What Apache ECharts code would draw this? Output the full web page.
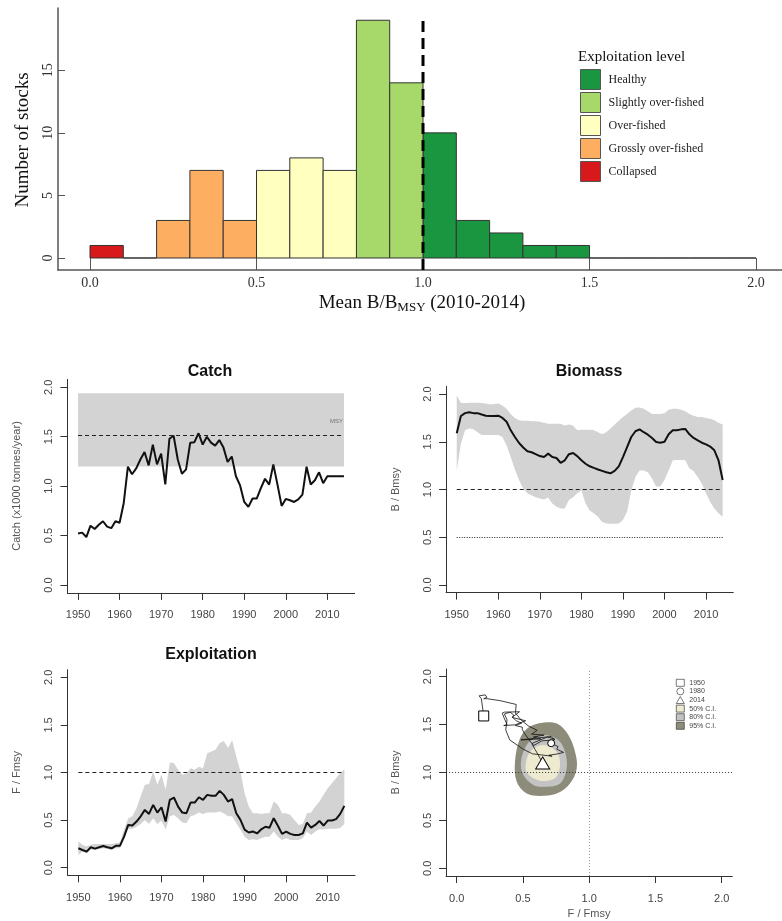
<!DOCTYPE html>
<html><head><meta charset="utf-8">
<script src="https://cdn.jsdelivr.net/npm/echarts@6/dist/echarts.min.js"></script>
<style>html,body{margin:0;padding:0;background:#fff}#c{width:782px;height:921px}</style>
</head><body><div id="c"></div><script>
// ---------- DATA ----------
const levelNames = ['Healthy','Slightly over-fished','Over-fished','Grossly over-fished','Collapsed'];
const levelColors = ['#1a9641','#a6d96a','#ffffbf','#fdae61','#d7191c'];
const binLow = [0.0,0.1,0.2,0.3,0.4,0.5,0.6,0.7,0.8,0.9,1.0,1.1,1.2,1.3,1.4,1.5,1.6,1.7,1.8,1.9];
const binWidth = 0.1;
const binCount = [1,0,3,7,3,7,8,7,19,14,10,3,2,1,1,0,0,0,0,0];
const binLevel = ['Collapsed','Collapsed','Grossly over-fished','Grossly over-fished','Grossly over-fished',
  'Over-fished','Over-fished','Over-fished','Slightly over-fished','Slightly over-fished',
  'Healthy','Healthy','Healthy','Healthy','Healthy','Healthy','Healthy','Healthy','Healthy','Healthy'];
const histRef = 1.0;
const histTicksX = [0,0.5,1,1.5,2];
const histTicksY = [0,5,10,15];

const years = [1950,1951,1952,1953,1954,1955,1956,1957,1958,1959,1960,1961,1962,1963,1964,1965,1966,1967,1968,1969,
  1970,1971,1972,1973,1974,1975,1976,1977,1978,1979,1980,1981,1982,1983,1984,1985,1986,1987,1988,1989,
  1990,1991,1992,1993,1994,1995,1996,1997,1998,1999,2000,2001,2002,2003,2004,2005,2006,2007,2008,2009,
  2010,2011,2012,2013,2014];
const catchVals = [0.52,0.53,0.485,0.60,0.566,0.61,0.645,0.59,0.575,0.645,
  0.63,0.83,1.197,1.12,1.18,1.27,1.346,1.21,1.42,1.22,
  1.33,1.017,1.48,1.51,1.27,1.125,1.17,1.44,1.445,1.535,
  1.42,1.50,1.44,1.41,1.466,1.39,1.245,1.30,1.10,1.007,
  0.84,0.79,0.875,0.875,0.98,1.075,1.015,1.22,1.015,0.80,
  0.871,0.857,0.84,0.866,0.915,1.197,1.017,1.06,1.14,1.03,
  1.10,1.10,1.10,1.10,1.10];
const msy = 1.52, msyLow = 1.2, msyHigh = 1.94;

const bioVals = [1.59,1.77,1.80,1.81,1.80,1.80,1.785,1.773,1.77,1.77,
  1.773,1.75,1.71,1.62,1.55,1.487,1.44,1.40,1.39,1.37,
  1.35,1.34,1.376,1.34,1.33,1.28,1.306,1.37,1.383,1.35,
  1.306,1.27,1.243,1.226,1.21,1.195,1.18,1.17,1.195,1.243,
  1.34,1.445,1.55,1.61,1.63,1.60,1.574,1.54,1.497,1.49,
  1.50,1.578,1.62,1.62,1.63,1.634,1.578,1.54,1.515,1.49,
  1.473,1.45,1.41,1.306,1.10];
const bioUpper = [1.985,1.905,1.905,1.91,1.91,1.91,1.905,1.90,1.89,1.895,
  1.90,1.88,1.846,1.79,1.75,1.725,1.72,1.72,1.715,1.715,
  1.71,1.70,1.69,1.69,1.69,1.69,1.67,1.68,1.67,1.62,
  1.625,1.625,1.625,1.62,1.60,1.578,1.60,1.64,1.68,1.72,
  1.76,1.79,1.828,1.856,1.86,1.846,1.82,1.79,1.79,1.79,
  1.80,1.835,1.846,1.846,1.835,1.82,1.79,1.773,1.76,1.76,
  1.75,1.74,1.725,1.70,1.68];
const bioLower = [1.20,1.48,1.62,1.64,1.63,1.60,1.57,1.57,1.57,1.57,
  1.57,1.55,1.46,1.34,1.21,1.10,1.01,0.96,0.94,0.92,
  0.905,0.895,0.915,0.853,0.82,0.80,0.80,0.89,0.92,0.96,
  0.99,0.853,0.78,0.75,0.714,0.66,0.645,0.64,0.64,0.645,
  0.68,0.767,0.99,1.13,1.20,1.20,1.18,1.115,1.03,1.035,
  1.10,1.20,1.306,1.31,1.31,1.306,1.22,1.195,1.13,1.06,
  0.96,0.87,0.80,0.75,0.714];

const explVals = [0.204,0.186,0.169,0.215,0.20,0.215,0.228,0.215,0.204,0.23,
  0.23,0.326,0.449,0.443,0.485,0.54,0.607,0.565,0.66,0.579,
  0.635,0.485,0.713,0.737,0.642,0.579,0.572,0.684,0.684,0.74,
  0.713,0.765,0.755,0.755,0.807,0.765,0.695,0.72,0.572,0.502,
  0.40,0.37,0.38,0.36,0.403,0.43,0.42,0.52,0.44,0.355,
  0.38,0.355,0.344,0.344,0.36,0.474,0.42,0.449,0.49,0.443,
  0.495,0.495,0.51,0.565,0.649];
const explUpper = [0.274,0.24,0.222,0.24,0.25,0.25,0.25,0.25,0.25,0.257,
  0.264,0.40,0.52,0.54,0.625,0.75,0.87,0.88,1.01,0.87,
  0.976,0.82,1.105,1.10,1.03,0.976,0.99,1.045,1.03,1.06,
  1.045,1.203,1.22,1.24,1.31,1.33,1.26,1.34,1.167,1.01,
  0.783,0.642,0.572,0.572,0.565,0.572,0.572,0.695,0.66,0.572,
  0.572,0.554,0.502,0.449,0.46,0.572,0.58,0.642,0.695,0.765,
  0.835,0.888,0.94,0.995,1.035];
const explLower = [0.133,0.17,0.15,0.19,0.185,0.195,0.205,0.195,0.185,0.205,
  0.205,0.30,0.41,0.41,0.43,0.46,0.50,0.46,0.52,0.46,
  0.495,0.40,0.54,0.554,0.52,0.474,0.467,0.54,0.554,0.58,
  0.565,0.58,0.58,0.58,0.59,0.572,0.54,0.54,0.467,0.40,
  0.326,0.29,0.30,0.29,0.31,0.326,0.326,0.38,0.326,0.29,
  0.31,0.29,0.29,0.29,0.31,0.38,0.344,0.38,0.403,0.40,
  0.41,0.41,0.41,0.417,0.46];

// Kobe confidence regions, [F/Fmsy, B/Bmsy] boundary vertices
const ci95 = [[0.679,1.524],[0.767,1.503],[0.843,1.391],[0.893,1.217],[0.906,1.043],[0.855,0.886],
  [0.755,0.78],[0.629,0.755],[0.528,0.78],[0.453,0.904],[0.44,1.11],[0.478,1.357],[0.553,1.48]];
const ci80 = [[0.667,1.391],[0.767,1.339],[0.818,1.217],[0.83,1.043],[0.78,0.886],[0.667,0.852],
  [0.579,0.87],[0.503,0.974],[0.485,1.113],[0.528,1.287],[0.59,1.36]];
const ci50 = [[0.654,1.287],[0.755,1.217],[0.78,1.078],[0.742,0.939],[0.629,0.915],[0.533,0.991],
  [0.523,1.113],[0.566,1.235]];
const kobeLabels = ['1950','1980','2014'];
const kobeIdx = [0, 30, 64];
const refLine = 1.0, refLimit = 0.5;
const panelTicksY = [0,0.5,1,1.5,2];
const timeTicks = [1950,1960,1970,1980,1990,2000,2010];

// ---------- STYLE ----------
const SERIF = '"Liberation Serif","Times New Roman",serif';
const SANS = '"Liberation Sans",Arial,sans-serif';

const chart = echarts.init(document.getElementById('c'), null, {renderer:'canvas'});

function panelX(gi, min, max, ticks, fmt) {
  return {type:'value', gridIndex:gi, min, max,
    axisLine:{show:true, onZero:false, lineStyle:{color:'#333', width:1}},
    axisTick:{show:true, customValues:ticks, length:7, lineStyle:{color:'#333'}},
    axisLabel:{customValues:ticks, margin:17, color:'#444', fontSize:11, fontFamily:SANS, formatter:fmt},
    splitLine:{show:false}};
}
function panelY(gi) {
  return {type:'value', gridIndex:gi, min:-0.08, max:2.08,
    axisLine:{show:true, onZero:false, lineStyle:{color:'#333', width:1}},
    axisTick:{show:true, customValues:panelTicksY, length:7, lineStyle:{color:'#333'}},
    axisLabel:{customValues:panelTicksY, rotate:90, margin:13, color:'#444', fontSize:11, fontFamily:SANS,
      formatter:v=>v.toFixed(1)},
    splitLine:{show:false}};
}
function bandSeries(gi, upper, lower) {
  return {type:'custom', xAxisIndex:gi, yAxisIndex:gi, silent:true, z:1,
    data:[[years[0], lower[0]]],
    renderItem:(params, api) => {
      const pts = [];
      for (let i = 0; i < years.length; i++) pts.push(api.coord([years[i], upper[i]]));
      for (let i = years.length - 1; i >= 0; i--) pts.push(api.coord([years[i], lower[i]]));
      return {type:'polygon', shape:{points:pts}, style:{fill:'#d3d3d3'}};
    }};
}
function lineSeries(gi, vals, marks) {
  return {type:'line', xAxisIndex:gi, yAxisIndex:gi, data:years.map((y,i)=>[y, vals[i]]),
    symbol:'none', lineStyle:{color:'#111', width:2}, z:4, silent:true,
    markLine: marks ? {silent:true, symbol:['none','none'], label:{show:false}, data:marks} : undefined};
}
function hLine(v, type) {
  return [{coord:[years[0], v], lineStyle:{color:'#222', width:1.2, type}},
          {coord:[years[years.length-1], v]}];
}

const histSeries = levelNames.map((name, li) => ({
  type:'custom', name, xAxisIndex:0, yAxisIndex:0,
  itemStyle:{color:levelColors[li]},
  encode:{x:[0,1], y:2},
  data: binLow.map((lo,i)=>[lo, lo + binWidth, binCount[i], binLevel[i]]).filter(d=>d[3]===name).map(d=>d.slice(0,3)),
  renderItem:(params, api) => {
    const p0 = api.coord([api.value(0), api.value(2)]);
    const p1 = api.coord([api.value(1), 0]);
    return {type:'rect', shape:{x:p0[0], y:p0[1], width:p1[0]-p0[0], height:p1[1]-p0[1]},
      style:{fill:api.visual('color'), stroke:'#333', lineWidth:1}};
  }
}));

function region(name, pts, color) {
  return {type:'custom', name, xAxisIndex:4, yAxisIndex:4, itemStyle:{color}, silent:true, z:1,
    data:[pts[0]],
    renderItem:(params, api) => ({type:'polygon',
      shape:{points:pts.map(q=>api.coord(q)), smooth:0.35}, style:{fill:color}})};
}

const kobeMarkerSym = ['rect','circle','triangle'];
const kobeMarkerSize = [10, 7, [14,12]];
const kobeMarkers = kobeLabels.map((nm,k)=>({
  type:'scatter', name:nm, xAxisIndex:4, yAxisIndex:4, z:6, silent:true,
  data:[[explVals[kobeIdx[k]], bioVals[kobeIdx[k]]]],
  symbol:kobeMarkerSym[k], symbolSize:kobeMarkerSize[k],
  itemStyle:{color:'#fff', borderColor:'#000', borderWidth:1, opacity:1}
}));

const option = {
  animation:false,
  backgroundColor:'#fff',
  grid:[
    {left:58, top:8, width:724, height:262},
    {left:67.4, top:379.4, width:287.2, height:213.5},
    {left:446.1, top:386.4, width:287.2, height:206.2},
    {left:67.7, top:669.7, width:287.3, height:205.6},
    {left:446.1, top:669, width:286.2, height:207}
  ],
  xAxis:[
    {type:'value', gridIndex:0, min:-0.0961, max:2.078,
      axisLine:{show:true, onZero:false, lineStyle:{color:'#555', width:1.5}},
      axisTick:{show:true, inside:true, customValues:histTicksX, length:12, lineStyle:{color:'#555'}},
      axisLabel:{customValues:histTicksX, margin:6, color:'#333', fontSize:14, fontFamily:SERIF, formatter:v=>v.toFixed(1)},
      splitLine:{show:false}},
    panelX(1, 1947.44, 2016.56, timeTicks, v=>String(v)),
    panelX(2, 1947.44, 2016.56, timeTicks, v=>String(v)),
    panelX(3, 1947.44, 2016.56, timeTicks, v=>String(v)),
    panelX(4, -0.08, 2.08, panelTicksY, v=>v.toFixed(1))
  ],
  yAxis:[
    {type:'value', gridIndex:0, min:-0.96, max:19.98,
      axisLine:{show:true, onZero:false, lineStyle:{color:'#555', width:1.5}},
      axisTick:{show:true, inside:true, customValues:histTicksY, length:7, lineStyle:{color:'#555'}},
      axisLabel:{customValues:histTicksY, rotate:90, margin:3, color:'#333', fontSize:14, fontFamily:SERIF},
      splitLine:{show:false}},
    panelY(1), panelY(2), panelY(3), panelY(4)
  ],
  legend:[
    {data:levelNames, orient:'vertical', left:580, top:69, itemWidth:20, itemHeight:20, itemGap:2,
      padding:0, icon:'rect', selectedMode:false,
      itemStyle:{borderColor:'#555', borderWidth:1},
      textStyle:{fontFamily:SERIF, fontSize:12, color:'#222', padding:[0,0,0,3]}},
    {data:[{name:'1950'},{name:'1980'},{name:'2014'},
           {name:'50% C.I.', icon:'rect'},{name:'80% C.I.', icon:'rect'},{name:'95% C.I.', icon:'rect'}],
      orient:'vertical', left:676, top:679, itemWidth:8, itemHeight:7, itemGap:1, padding:0, selectedMode:false,
      itemStyle:{borderColor:'#222', borderWidth:0.6},
      textStyle:{fontFamily:SANS, fontSize:7, color:'#444'}}
  ],
  graphic:[
    {type:'text', x:578, y:57, style:{text:'Exploitation level', fontFamily:SERIF, fontSize:15, fill:'#111', align:'left', verticalAlign:'middle'}},
    {type:'text', x:23, y:140, rotation:Math.PI/2, style:{text:'Number of stocks', fontFamily:SERIF, fontSize:19, fill:'#111', align:'center', verticalAlign:'middle'}},
    {type:'text', x:422, y:303, style:{text:'{a|Mean B/B}{s|MSY}{a| (2010-2014)}', align:'center', verticalAlign:'middle',
      rich:{a:{fontFamily:SERIF, fontSize:19, fill:'#111'}, s:{fontFamily:SERIF, fontSize:13, fill:'#111', padding:[9,0,0,0]}}}},
    {type:'text', x:210, y:372, style:{text:'Catch', fontFamily:SANS, fontWeight:'bold', fontSize:16, fill:'#111', align:'center', verticalAlign:'middle'}},
    {type:'text', x:589, y:372, style:{text:'Biomass', fontFamily:SANS, fontWeight:'bold', fontSize:16, fill:'#111', align:'center', verticalAlign:'middle'}},
    {type:'text', x:211, y:655, style:{text:'Exploitation', fontFamily:SANS, fontWeight:'bold', fontSize:16, fill:'#111', align:'center', verticalAlign:'middle'}},
    {type:'text', x:17, y:486, rotation:Math.PI/2, style:{text:'Catch (x1000 tonnes/year)', fontFamily:SANS, fontSize:11, fill:'#555', align:'center', verticalAlign:'middle'}},
    {type:'text', x:396, y:489.5, rotation:Math.PI/2, style:{text:'B / Bmsy', fontFamily:SANS, fontSize:11, fill:'#555', align:'center', verticalAlign:'middle'}},
    {type:'text', x:17, y:772.5, rotation:Math.PI/2, style:{text:'F / Fmsy', fontFamily:SANS, fontSize:11, fill:'#555', align:'center', verticalAlign:'middle'}},
    {type:'text', x:396, y:772.5, rotation:Math.PI/2, style:{text:'B / Bmsy', fontFamily:SANS, fontSize:11, fill:'#555', align:'center', verticalAlign:'middle'}},
    {type:'text', x:589, y:914, style:{text:'F / Fmsy', fontFamily:SANS, fontSize:11, fill:'#555', align:'center', verticalAlign:'middle'}}
  ],
  series:[
    ...histSeries,
    {type:'line', xAxisIndex:0, yAxisIndex:0, silent:true, z:5, symbol:'none',
      data:[[histRef,-0.96],[histRef,19.4]], lineStyle:{color:'#000', width:3, type:[11,6]}},

    // Catch
    {type:'line', xAxisIndex:1, yAxisIndex:1, data:years.map((y,i)=>[y, catchVals[i]]),
      symbol:'none', lineStyle:{color:'#111', width:2}, z:4, silent:true,
      markArea:{silent:true, itemStyle:{color:'#d3d3d3'},
        data:[[{coord:[years[0], msyLow]},{coord:[years[years.length-1], msyHigh]}]]},
      markLine:{silent:true, symbol:['none','none'], label:{show:false}, data:[hLine(msy,[4,3])]}},
    {type:'scatter', xAxisIndex:1, yAxisIndex:1, silent:true, symbolSize:0, data:[[2012.2, 1.66]],
      label:{show:true, position:'inside', formatter:'MSY', fontSize:6, color:'#555', fontFamily:SANS}},

    // Biomass
    bandSeries(2, bioUpper, bioLower),
    lineSeries(2, bioVals, [hLine(refLine,[4,3]), hLine(refLimit,[1,1.5])]),

    // Exploitation
    bandSeries(3, explUpper, explLower),
    lineSeries(3, explVals, [hLine(refLine,[4,3])]),

    // Kobe
    region('95% C.I.', ci95, '#8d8c7a'),
    region('80% C.I.', ci80, '#c3c3c3'),
    region('50% C.I.', ci50, '#eeeacf'),
    {type:'line', xAxisIndex:4, yAxisIndex:4, data:explVals.map((f,i)=>[f, bioVals[i]]),
      symbol:'none', lineStyle:{color:'#111', width:0.8}, z:4, silent:true,
      markLine:{silent:true, symbol:['none','none'], label:{show:false},
        data:[{xAxis:refLine, lineStyle:{color:'#999', width:1, type:[1,2]}},
              {yAxis:refLine, lineStyle:{color:'#333', width:1, type:[1,2]}}]}},
    ...kobeMarkers
  ]
};
chart.setOption(option);
</script></body></html>
